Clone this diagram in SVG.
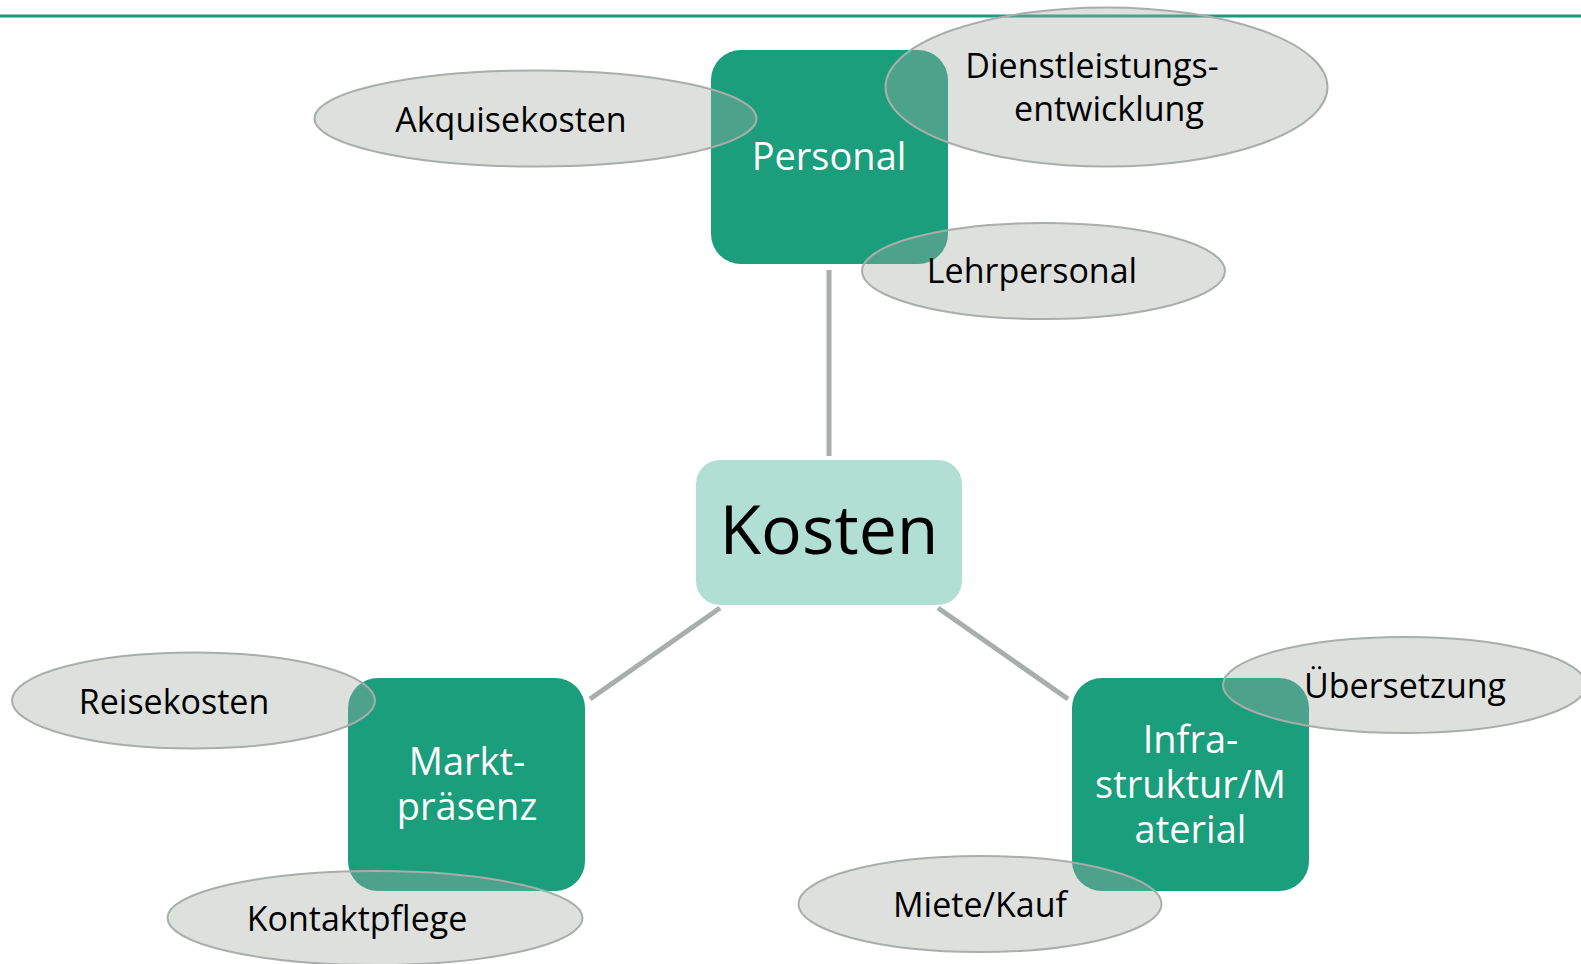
<svg xmlns="http://www.w3.org/2000/svg" width="1581" height="964" viewBox="0 0 1581 964">
<style>
.box{fill:#1a9e7c}
.center{fill:#b2dfd4}
.ell{fill:rgb(165,170,165);fill-opacity:0.37;stroke:#a9adab;stroke-width:2}
.bt{font-family:"Open Sans","Noto Sans",sans-serif;font-size:38px;fill:#ffffff;text-anchor:middle}
.et{font-family:"Open Sans","Noto Sans",sans-serif;font-size:34px;fill:#000000;text-anchor:middle}
.ct{font-family:"Open Sans","Noto Sans",sans-serif;font-size:68px;fill:#000000;text-anchor:middle}
.conn{stroke:#a9adab;stroke-width:5;fill:none}
</style>
<line x1="0" y1="16" x2="1581" y2="16" stroke="#1b9a7c" stroke-width="3"/>
<g id="connectors">
<line class="conn" x1="829" y1="270" x2="829" y2="456"/>
<line class="conn" x1="720" y1="608" x2="590" y2="699"/>
<line class="conn" x1="938" y1="608" x2="1068" y2="699"/>
</g>
<g id="kosten">
<rect class="center" x="696" y="460" width="266" height="145" rx="24"/>
<text class="ct" x="829" y="554">Kosten</text>
</g>
<g id="personal">
<rect class="box" x="711" y="50" width="237" height="214" rx="30"/>
<text class="bt" x="829" y="170">Personal</text>
</g>
<g id="marktpraesenz">
<rect class="box" x="348" y="678" width="237" height="213" rx="30"/>
<text class="bt" x="467" y="775">Markt-</text>
<text class="bt" x="467" y="820">präsenz</text>
</g>
<g id="infrastruktur">
<rect class="box" x="1072" y="678" width="237" height="213" rx="30"/>
<text class="bt" x="1190.5" y="753">Infra-</text>
<text class="bt" x="1190.5" y="798">struktur/M</text>
<text class="bt" x="1190.5" y="843">aterial</text>
</g>
<g id="akquisekosten">
<ellipse class="ell" cx="535.5" cy="118.5" rx="221" ry="48"/>
<text class="et" x="511" y="132">Akquisekosten</text>
</g>
<g id="dienstleistungsentwicklung">
<ellipse class="ell" cx="1106.5" cy="87" rx="221" ry="79.5"/>
<text class="et" x="1092" y="78">Dienstleistungs-</text>
<text class="et" x="1109" y="121">entwicklung</text>
</g>
<g id="lehrpersonal">
<ellipse class="ell" cx="1043.5" cy="271" rx="181.5" ry="48"/>
<text class="et" x="1032" y="283">Lehrpersonal</text>
</g>
<g id="reisekosten">
<ellipse class="ell" cx="193.5" cy="700.5" rx="181.5" ry="48"/>
<text class="et" x="174" y="714">Reisekosten</text>
</g>
<g id="kontaktpflege">
<ellipse class="ell" cx="375" cy="918" rx="207.5" ry="47"/>
<text class="et" x="357" y="931">Kontaktpflege</text>
</g>
<g id="mietekauf">
<ellipse class="ell" cx="980" cy="904" rx="181.5" ry="48"/>
<text class="et" x="980" y="917">Miete/Kauf</text>
</g>
<g id="uebersetzung">
<ellipse class="ell" cx="1404.5" cy="685" rx="181.5" ry="48"/>
<text class="et" x="1405" y="698">Übersetzung</text>
</g>
</svg>
